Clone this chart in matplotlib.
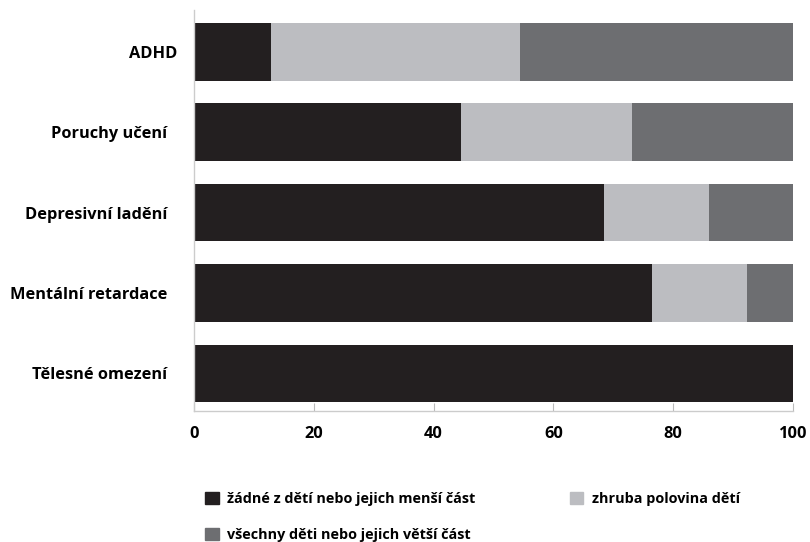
import matplotlib.pyplot as plt
from matplotlib.patches import Patch
from matplotlib.transforms import ScaledTranslation

plt.rcParams['font.family'] = ['Open Sans', 'DejaVu Sans']

kategorie = ['ADHD', 'Poruchy učení', 'Depresivní ladění', 'Mentální retardace', 'Tělesné omezení']
zadne = [12.9, 44.5, 68.4, 76.4, 100]
polovina = [41.5, 28.7, 17.6, 15.9, 0]
vsechny = [45.6, 26.8, 14.0, 7.7, 0]
legenda = ['žádné z dětí nebo jejich menší část', 'zhruba polovina dětí',
           'všechny děti nebo jejich větší část']
barvy = ['#231f20', '#bcbdc1', '#6d6e71']

fig = plt.figure(figsize=(8.1, 5.42), dpi=100)
ax = fig.add_axes([194 / 810, 1 - 411 / 542, 599 / 810, 401 / 542])

y = list(range(len(kategorie)))
left2 = [a for a in zadne]
left3 = [a + b for a, b in zip(zadne, polovina)]
ax.barh(y, zadne, height=0.715, color=barvy[0])
ax.barh(y, polovina, left=left2, height=0.715, color=barvy[1])
ax.barh(y, vsechny, left=left3, height=0.715, color=barvy[2])

ax.set_xlim(0, 100)
ax.set_ylim(4.47, -0.52)
ax.set_yticks(y)
ax.set_yticklabels(kategorie, fontsize=11.8, fontweight='bold')
ax.set_xticks([0, 20, 40, 60, 80, 100])
ax.set_xticklabels(['0', '20', '40', '60', '80', '100'], fontsize=11.8, fontweight='bold')
ax.tick_params(axis='y', length=0, pad=19)
ax.tick_params(axis='x', direction='in', length=6, color='#bbbbbb', pad=11)

# ADHD label sits a little further right in the original
lbl = ax.get_yticklabels()[0]
lbl.set_transform(lbl.get_transform() + ScaledTranslation(0.1, 0, fig.dpi_scale_trans))

for s in ['top', 'right']:
    ax.spines[s].set_visible(False)
for s in ['left', 'bottom']:
    ax.spines[s].set_color('#cccccc')
    ax.spines[s].set_linewidth(1)

handles = [Patch(color=barvy[0]), Patch(color=barvy[2]), Patch(color=barvy[1])]
labels = [legenda[0], legenda[2], legenda[1]]
fig.legend(handles, labels, ncol=2, loc='upper left', bbox_to_anchor=(192 / 810, 1 - 479 / 542),
           frameon=False, handlelength=0.95, handleheight=0.95, handletextpad=0.6,
           columnspacing=6.5, labelspacing=1.5, prop={'weight': 'bold', 'size': 10.4})

fig.savefig('out.png', dpi=100)
